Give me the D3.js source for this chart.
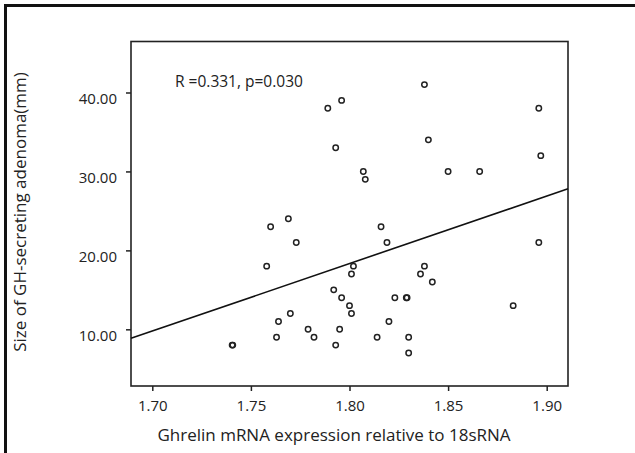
<!DOCTYPE html>
<html>
<head>
<meta charset="utf-8">
<script src="https://cdn.jsdelivr.net/npm/d3@7"></script>
<style>
	body { margin: 0; background: #fff; }
	text { font-family: "Open Sans", "DejaVu Sans", sans-serif; fill: #222; }
</style>
</head>
<body>
<svg id="chart" width="635" height="453"></svg>
<script>
// Ghrelin mRNA expression vs. adenoma size
var ghrelin = [1.760, 1.838, 1.796, 1.789, 1.793, 1.840, 1.807, 1.808, 1.769, 1.816,
	1.896, 1.897, 1.850, 1.866, 1.758, 1.764, 1.763, 1.7405, 1.7408, 1.773,
	1.819, 1.802, 1.801, 1.838, 1.836, 1.842, 1.792, 1.796, 1.800, 1.801,
	1.823, 1.8288, 1.8292, 1.770, 1.779, 1.782, 1.795, 1.793, 1.820, 1.814,
	1.830, 1.830, 1.896, 1.883];
var sizeMm = [23, 41, 39, 38, 33, 34, 30, 29, 24, 23,
	38, 32, 30, 30, 18, 11, 9, 8, 8, 21,
	21, 18, 17, 18, 17, 16, 15, 14, 13, 12,
	14, 14, 14, 12, 10, 9, 10, 8, 11, 9,
	9, 7, 21, 13];

// fit line end points
var fitX = [1.6892, 1.9108];
var fitY = [8.86, 27.8];

var xTicks = [1.70, 1.75, 1.80, 1.85, 1.90];
var yTicks = [10, 20, 30, 40];
var annotation = "R =0.331, p=0.030";
var xTitle = "Ghrelin mRNA expression relative to 18sRNA";
var yTitle = "Size of GH-secreting adenoma(mm)";

function drawChart(){
	var svg = d3.select("#chart");

	// outer frame
	svg.append("rect")
		.attr("x", 5.5).attr("y", 5.5)
		.attr("width", 700).attr("height", 600)
		.attr("fill", "none")
		.attr("stroke", "#111")
		.attr("stroke-width", 3);

	var pLeft = 131, pRight = 568, pTop = 41.5, pBottom = 386;

	var x = d3.scaleLinear().domain([1.6892, 1.9108]).range([pLeft, pRight]);
	var y = d3.scaleLinear().domain([2.82, 46.46]).range([pBottom, pTop]);

	// plot box
	svg.append("rect")
		.attr("x", pLeft).attr("y", pTop)
		.attr("width", pRight - pLeft).attr("height", pBottom - pTop)
		.attr("fill", "none")
		.attr("stroke", "#222")
		.attr("stroke-width", 1.6);

	var xAxis = svg.append("g")
		.attr("transform", "translate(0," + pBottom + ")")
		.call(d3.axisBottom(x).tickValues(xTicks).tickFormat(d3.format(".2f")).tickSize(5).tickSizeOuter(0));
	xAxis.select(".domain").remove();
	xAxis.selectAll("line").attr("stroke", "#222").attr("stroke-width", 1.5);
	xAxis.selectAll("text").attr("dy", "1.15em").style("font-size", "15px").attr("fill", "#222");

	var yAxis = svg.append("g")
		.attr("transform", "translate(" + pLeft + ",0)")
		.call(d3.axisLeft(y).tickValues(yTicks).tickFormat(d3.format(".2f")).tickSize(5).tickSizeOuter(0));
	yAxis.select(".domain").remove();
	yAxis.selectAll("line").attr("stroke", "#222").attr("stroke-width", 1.5);
	yAxis.selectAll("text").attr("x", -14).attr("dy", "0.75em").style("font-size", "15px").attr("fill", "#222");

	// fit line
	svg.append("line")
		.attr("x1", x(fitX[0])).attr("y1", y(fitY[0]))
		.attr("x2", x(fitX[1])).attr("y2", y(fitY[1]))
		.attr("stroke", "#111")
		.attr("stroke-width", 1.6);

	// points
	var pts = ghrelin.map(function(g, i){ return {gx: g, sy: sizeMm[i]}; });
	svg.append("g").selectAll("circle")
		.data(pts)
		.enter().append("circle")
		.attr("cx", function(d){ return x(d.gx); })
		.attr("cy", function(d){ return y(d.sy); })
		.attr("r", 2.7)
		.attr("fill", "none")
		.attr("stroke", "#222")
		.attr("stroke-width", 1.5);

	svg.append("text")
		.attr("x", 175).attr("y", 87)
		.style("font-size", "15.5px")
		.text(annotation);

	svg.append("text")
		.attr("x", 334).attr("y", 441)
		.attr("text-anchor", "middle")
		.style("font-size", "17px")
		.text(xTitle);

	svg.append("text")
		.attr("transform", "translate(26,212) rotate(-90)")
		.attr("text-anchor", "middle")
		.style("font-size", "17px")
		.text(yTitle);
}

drawChart();
</script>
</body>
</html>
